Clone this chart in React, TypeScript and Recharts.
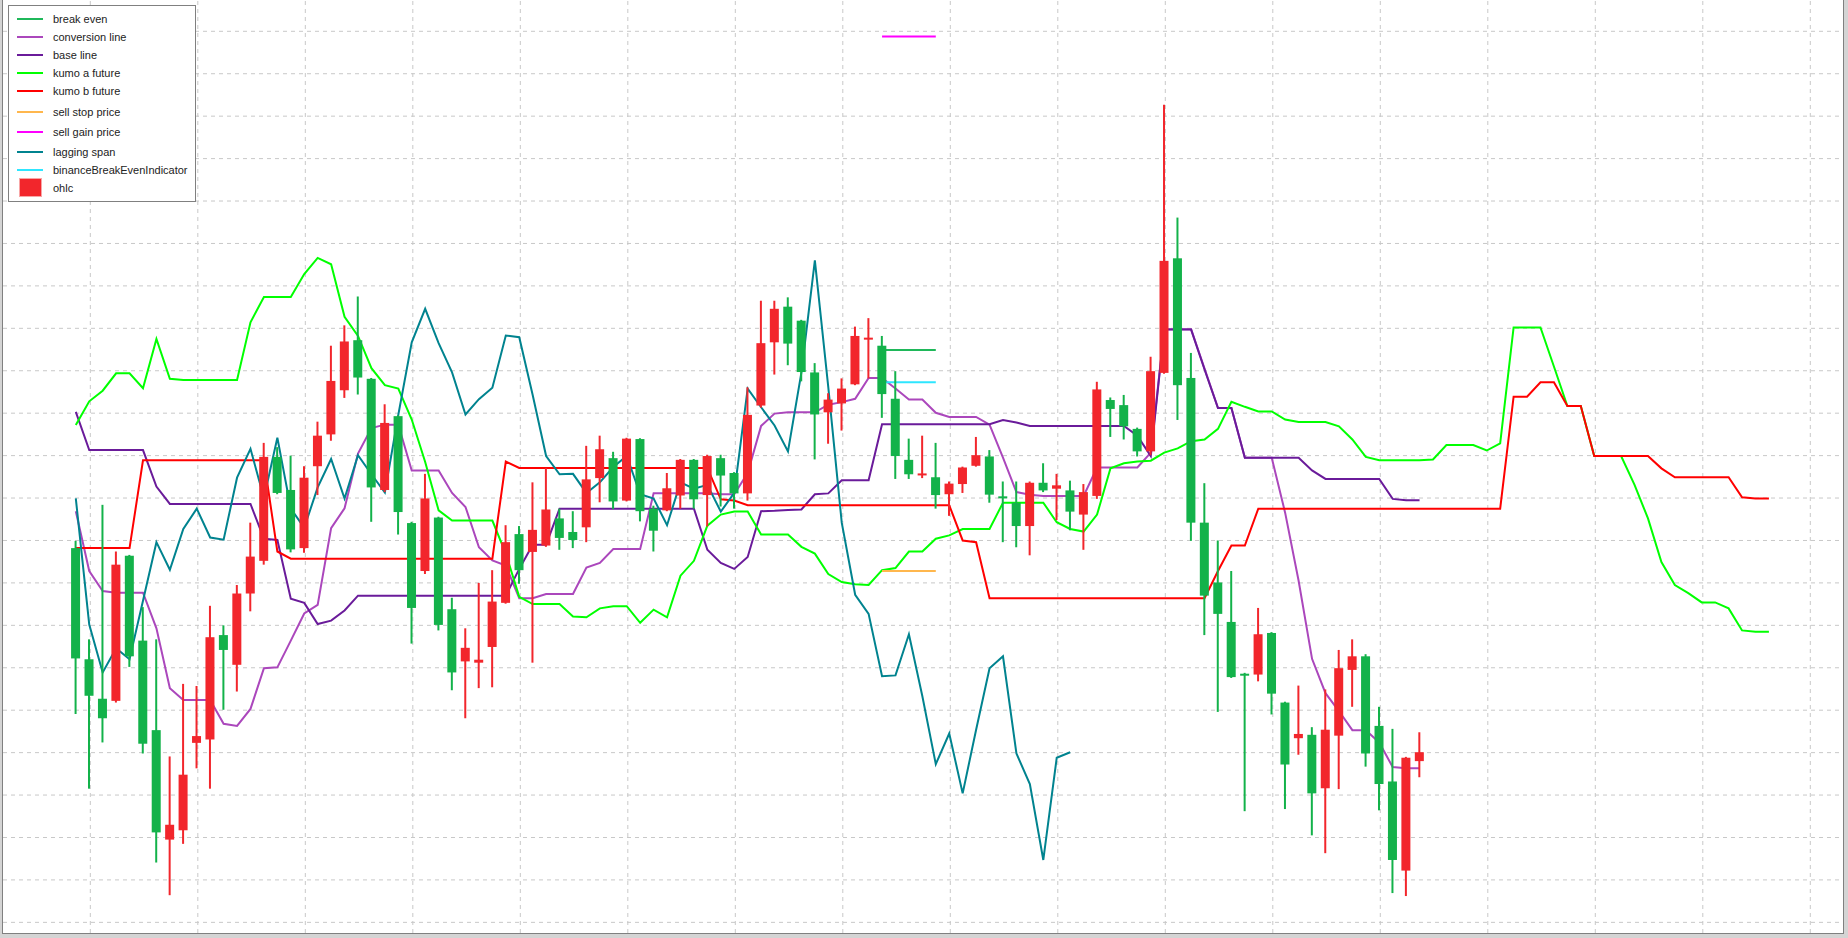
import React from 'react';
import { ComposedChart, Line, Bar, XAxis, YAxis, ReferenceLine } from 'recharts';

// ---- candles (index 0..100) ----
const opens = [
  188.2, 162.0, 152.7, 152.2, 186.4, 166.4, 145.3, 119.5, 121.7, 142.3,
  143.1, 167.7, 160.7, 177.5, 185.2, 209.7, 201.9, 188.2, 207.5, 215.0,
  225.4, 237.2, 228.1, 201.9, 219.3, 194.1, 182.8, 195.4, 173.8, 161.5,
  161.2, 164.9, 175.3, 191.5, 187.3, 188.8, 195.2, 192.0, 193.1, 204.7,
  209.4, 199.4, 213.9, 197.5, 197.1, 200.6, 209.0, 200.7, 209.4, 205.9,
  201.1, 221.8, 236.7, 245.1, 241.8, 229.6, 220.2, 222.3, 226.8, 237.5,
  235.9, 223.4, 209.0, 205.5, 204.9, 200.9, 203.3, 207.6, 209.8, 200.4,
  198.9, 193.4, 203.6, 202.2, 201.8, 196.1, 200.5, 223.1, 221.9, 216.3,
  211.0, 229.5, 256.5, 228.3, 194.2, 180.1, 170.8, 158.6, 158.4, 168.2,
  151.8, 143.4, 144.2, 131.6, 144.0, 159.5, 162.7, 146.3, 133.2, 112.2,
  138.0,
];
const highs = [
  189.9, 166.7, 198.4, 187.4, 186.6, 174.3, 166.7, 139.1, 156.2, 155.7,
  174.6, 170.0, 179.5, 194.2, 213.0, 212.0, 210.0, 207.5, 218.0, 235.9,
  240.7, 247.5, 228.3, 222.1, 219.5, 194.4, 205.7, 195.6, 176.5, 169.3,
  180.0, 183.0, 193.6, 193.4, 203.7, 207.1, 197.5, 196.9, 212.3, 214.7,
  210.9, 214.2, 214.1, 198.2, 205.9, 209.2, 209.2, 210.2, 210.2, 206.1,
  226.1, 246.5, 246.5, 247.3, 242.0, 231.8, 224.7, 228.2, 240.4, 242.4,
  238.2, 229.9, 214.0, 214.7, 213.0, 203.9, 207.4, 214.4, 211.3, 203.9,
  203.9, 203.9, 208.2, 205.7, 204.1, 203.3, 227.4, 223.7, 224.3, 216.6,
  233.3, 292.7, 266.1, 234.2, 203.5, 190.0, 182.8, 158.8, 174.1, 168.4,
  152.0, 155.8, 146.0, 154.9, 164.2, 166.7, 163.2, 150.8, 145.6, 139.0,
  144.8,
];
const lows = [
  149.1, 131.5, 142.4, 151.8, 160.2, 139.8, 114.1, 106.4, 118.5, 136.3,
  131.5, 150.1, 154.4, 173.3, 184.3, 200.9, 187.2, 187.1, 200.7, 213.5,
  223.6, 224.4, 194.4, 201.4, 191.4, 165.7, 182.1, 168.8, 154.7, 148.1,
  155.2, 155.4, 175.1, 179.8, 161.2, 188.5, 187.8, 188.2, 189.6, 199.0,
  197.4, 199.2, 194.5, 187.4, 196.9, 197.5, 197.5, 193.3, 198.0, 197.5,
  199.4, 221.3, 229.1, 231.3, 227.5, 209.1, 212.8, 215.9, 226.6, 228.2,
  218.9, 204.5, 204.5, 204.7, 197.5, 195.8, 201.2, 207.4, 198.9, 189.6,
  188.4, 186.5, 201.4, 194.8, 192.4, 187.8, 199.8, 214.4, 213.8, 209.8,
  210.1, 229.3, 218.4, 189.9, 167.7, 149.6, 157.6, 126.2, 156.8, 149.0,
  126.7, 139.5, 120.5, 116.3, 131.4, 150.8, 136.7, 126.4, 106.9, 106.2,
  134.2,
];
const closes = [
  162.2, 153.4, 148.1, 184.3, 162.7, 142.1, 121.2, 123.0, 134.8, 143.9,
  167.2, 164.2, 177.5, 186.2, 209.7, 201.2, 187.9, 204.8, 214.7, 227.6,
  236.9, 228.4, 202.5, 217.7, 196.7, 174.1, 199.9, 170.1, 158.9, 164.7,
  161.9, 175.6, 189.6, 183.0, 192.5, 197.3, 190.6, 190.1, 204.4, 211.5,
  199.2, 214.0, 196.9, 192.3, 202.3, 209.0, 199.7, 209.9, 205.3, 201.1,
  219.6, 236.5, 244.6, 236.4, 229.7, 219.7, 223.2, 225.8, 238.2, 237.8,
  224.5, 209.9, 205.6, 205.8, 200.7, 203.4, 207.2, 210.1, 200.8, 200.0,
  193.4, 203.6, 201.8, 203.0, 196.8, 201.4, 225.6, 221.0, 216.9, 211.0,
  229.9, 255.9, 226.6, 194.2, 177.0, 172.7, 157.8, 158.3, 167.9, 153.9,
  137.2, 144.4, 130.4, 145.4, 159.9, 162.7, 139.8, 132.6, 114.7, 138.8,
  140.1,
];

// ---- indicator lines ----
const conversionLine = [
  196.9, 182.8, 178.1, 177.7, 177.7, 177.7, 169.3, 155.2, 152.4, 152.4,
  152.4, 146.8, 146.3, 150.3, 159.9, 160.1, 166.4, 172.8, 174.8, 192.9,
  197.6, 210.5, 216.5, 217.3, 217.3, 206.5, 206.5, 206.5, 201.2, 197.9,
  188.4, 185.3, 184.1, 176.4, 176.4, 177.4, 177.4, 177.4, 183.6, 184.7,
  188.0, 188.0, 188.0, 201.1, 201.1, 201.1, 201.1, 201.1, 200.9, 200.9,
  205.9, 217.0, 219.9, 220.2, 220.2, 220.2, 222.0, 222.6, 223.4, 228.3,
  228.3, 225.8, 223.2, 223.2, 220.1, 219.1, 219.1, 219.1, 217.3, 209.5,
  201.4, 200.8, 200.5, 200.5, 200.5, 200.5, 207.2, 207.2, 207.2, 207.2,
  210.7, 239.8, 239.8, 239.8, 230.5, 221.2, 221.2, 209.5, 209.5, 209.5,
  196.5, 180.5, 162.1, 154.0, 149.8, 145.3, 145.3, 142.4, 136.6, 136.3,
  136.3,
];
const baseLine = [
  220.3, 211.3, 211.3, 211.3, 211.3, 211.3, 202.7, 198.6, 198.6, 198.6,
  198.6, 198.6, 198.6, 198.6, 190.4, 190.1, 176.3, 175.3, 170.3, 171.1,
  173.5, 177.0, 177.0, 177.0, 177.0, 177.0, 177.0, 177.0, 177.0, 177.0,
  177.0, 177.0, 177.0, 183.3, 189.0, 189.0, 197.5, 197.5, 197.5, 197.5,
  197.5, 197.5, 197.5, 197.5, 197.5, 197.5, 197.5, 187.8, 184.7, 183.3,
  186.1, 196.9, 197.0, 197.2, 197.3, 200.9, 201.1, 204.2, 204.2, 204.2,
  217.4, 217.4, 217.4, 217.4, 217.4, 217.4, 217.4, 217.4, 217.4, 218.4,
  217.8, 217.0, 217.0, 217.0, 217.0, 217.0, 217.0, 217.0, 217.0, 214.7,
  209.9, 239.7, 239.7, 239.7, 230.3, 221.2, 221.2, 209.5, 209.5, 209.5,
  209.5, 209.5, 206.5, 204.5, 204.5, 204.5, 204.5, 204.5, 199.8, 199.5,
  199.5,
];
const kumoAFuture = [
  217.2, 222.8, 225.3, 229.4, 229.4, 225.9, 237.5, 228.1, 227.8, 227.8,
  227.8, 227.8, 227.8, 241.4, 247.4, 247.4, 247.4, 252.8, 256.6, 255.1,
  242.7, 238.2, 230.6, 226.6, 225.8, 218.5, 208.5, 197.1, 194.7, 194.7,
  194.7, 194.7, 186.9, 176.7, 175.0, 175.0, 175.0, 172.1, 171.9, 174.0,
  174.5, 174.5, 170.6, 173.7, 171.9, 181.7, 185.2, 193.5, 196.1, 196.8,
  196.8, 191.4, 191.4, 191.4, 188.5, 186.9, 182.1, 180.2, 179.7, 179.5,
  183.0, 183.5, 187.4, 187.4, 190.4, 191.2, 192.7, 192.7, 192.7, 198.9,
  198.9, 198.9, 198.9, 194.3, 192.7, 192.1, 196.1, 207.0, 208.2, 208.6,
  208.8, 210.7, 211.7, 213.4, 213.8, 216.3, 222.7, 221.5, 220.4, 220.4,
  218.5, 217.9, 217.9, 217.9, 216.9, 213.8, 209.7, 208.9, 208.9, 208.9,
  208.9, 209.1, 212.5, 212.5, 212.5, 211.2, 212.9, 240.2, 240.2, 240.2,
  231.0, 221.7, 221.7, 209.9, 209.9, 209.9, 203.1, 195.2, 184.9, 179.5,
  177.6, 175.4, 175.4, 174.0, 168.8, 168.5, 168.5,
];
const kumoBFuture = [
  188.2, 188.2, 188.2, 188.2, 188.2, 208.9, 208.9, 208.9, 208.9, 208.9,
  208.9, 208.9, 208.9, 208.9, 208.9, 187.4, 185.7, 185.7, 185.7, 185.7,
  185.7, 185.7, 185.7, 185.7, 185.7, 185.7, 185.7, 185.7, 185.7, 185.7,
  185.7, 185.7, 208.6, 207.1, 207.1, 207.1, 207.1, 207.1, 207.1, 207.1,
  207.1, 207.1, 207.1, 207.1, 207.1, 207.1, 207.1, 207.1, 199.7, 199.4,
  198.3, 198.3, 198.3, 198.3, 198.3, 198.3, 198.3, 198.3, 198.3, 198.3,
  198.3, 198.3, 198.3, 198.3, 198.3, 198.3, 190.0, 189.6, 176.4, 176.4,
  176.4, 176.4, 176.4, 176.4, 176.4, 176.4, 176.4, 176.4, 176.4, 176.4,
  176.4, 176.4, 176.4, 176.4, 176.4, 182.8, 188.8, 188.8, 197.5, 197.5,
  197.5, 197.5, 197.5, 197.5, 197.5, 197.5, 197.5, 197.5, 197.5, 197.5,
  197.5, 197.5, 197.5, 197.5, 197.5, 197.5, 197.5, 223.9, 223.9, 227.3,
  227.3, 221.7, 221.7, 209.9, 209.9, 209.9, 209.9, 209.9, 207.0, 204.9,
  204.9, 204.9, 204.9, 204.9, 200.2, 199.9, 199.9,
];
const laggingSpan = [
  199.9, 170.2, 158.9, 164.6, 162.0, 175.8, 189.6, 183.1, 192.7, 197.5,
  190.7, 190.2, 204.8, 211.6, 200.0, 214.2, 197.5, 193.0, 202.5, 209.2,
  199.9, 210.1, 205.6, 201.3, 219.6, 236.7, 244.6, 236.5, 229.6, 219.7,
  223.3, 226.0, 238.3, 237.9, 224.3, 209.9, 205.6, 205.7, 201.2, 203.7,
  207.3, 209.9, 200.9, 199.9, 193.6, 203.7, 202.2, 203.1, 196.8, 201.2,
  225.8, 221.4, 217.1, 211.0, 229.6, 256.0, 226.1, 194.2, 177.2, 172.7,
  158.0, 158.2, 167.9, 153.3, 137.3, 144.5, 130.4, 145.4, 159.9, 162.7,
  139.8, 132.6, 114.7, 138.8, 140.1,
];

// ---- trade levels (drawn over candles 60..64) ----
const levelCandles = [60, 61, 62, 63, 64];
const breakEvenPrice = 234.9;
const binanceBreakEvenPrice = 227.3;
const sellStopPrice = 182.8;
const sellGainPrice = 308.8;

// ---- grid ticks ----
const timeGridTicks = [
  1.08, 9.08, 17.08, 25.08, 33.08, 41.08, 49.08, 57.08, 65.08,
  73.08, 81.08, 89.08, 97.08, 105.08, 113.08, 121.08, 129.08,
];
const priceGridTicks = [
  100, 110, 120, 130, 140, 150, 160, 170, 180, 190, 200,
  210, 220, 230, 240, 250, 260, 270, 280, 290, 300, 310,
];

const RED = '#f2262c';
const GREEN = '#13b24a';
const GRID = '#c8c8c8';

const C = {
  breakEven: '#1fb85a',
  conversion: '#ab47bc',
  base: '#6a1b9a',
  kumoA: '#00ff00',
  kumoB: '#ff0000',
  sellStop: '#ffb74d',
  sellGain: '#ff00ff',
  lagging: '#00838f',
  binance: '#2ee6ff',
};

const rows: any[] = [];
for (let i = 0; i < kumoAFuture.length; i++) {
  const r: any = { i, kumoA: kumoAFuture[i], kumoB: kumoBFuture[i] };
  if (i < opens.length) {
    r.range = [lows[i], highs[i]];
    r.open = opens[i];
    r.high = highs[i];
    r.low = lows[i];
    r.close = closes[i];
    r.conversion = conversionLine[i];
    r.base = baseLine[i];
  }
  if (i < laggingSpan.length) r.lagging = laggingSpan[i];
  if (levelCandles.includes(i)) {
    r.breakEven = breakEvenPrice;
    r.binance = binanceBreakEvenPrice;
    r.sellStop = sellStopPrice;
    r.sellGain = sellGainPrice;
  }
  rows.push(r);
}

const Candle = (props: any) => {
  const { x, y, width, height, payload } = props;
  if (!payload || payload.high == null || x == null || y == null) return <g />;
  const { open, close, high, low } = payload;
  const color = close > open ? RED : GREEN;
  const top0 = Math.min(y, y + height);
  const h = Math.abs(height);
  const span = high - low || 1;
  const yOf = (v: number) => top0 + ((high - v) / span) * h;
  const cx = x + width / 2;
  const bTop = yOf(Math.max(open, close));
  const bBot = yOf(Math.min(open, close));
  return (
    <g>
      <line x1={cx} x2={cx} y1={top0} y2={top0 + h} stroke={color} strokeWidth={2} />
      <rect x={x} y={bTop} width={width} height={Math.max(bBot - bTop, 2)} fill={color} />
    </g>
  );
};

const legendItems = [
  { name: 'break even', color: C.breakEven, cy: 19.3 },
  { name: 'conversion line', color: C.conversion, cy: 37.3 },
  { name: 'base line', color: C.base, cy: 55.3 },
  { name: 'kumo a future', color: C.kumoA, cy: 73.3 },
  { name: 'kumo b future', color: C.kumoB, cy: 91.3 },
  { name: 'sell stop price', color: C.sellStop, cy: 111.7 },
  { name: 'sell gain price', color: C.sellGain, cy: 132 },
  { name: 'lagging span', color: C.lagging, cy: 152.3 },
  { name: 'binanceBreakEvenIndicator', color: C.binance, cy: 170.3 },
  { name: 'ohlc', color: RED, cy: 187.7, box: true },
];

const lineProps = {
  type: 'linear' as const,
  dot: false,
  activeDot: false,
  strokeWidth: 2,
  isAnimationActive: false,
  connectNulls: false,
};

export default function App() {
  return (
    <div
      style={{
        position: 'absolute',
        left: 0,
        top: 0,
        width: 1848,
        height: 938,
        background: '#d4d4d4',
        overflow: 'hidden',
        fontFamily: '"Liberation Sans", Arial, sans-serif',
      }}
    >
      <div
        style={{
          position: 'absolute',
          left: 2,
          top: -1,
          width: 1842,
          height: 935,
          boxSizing: 'border-box',
          border: '1px solid #808080',
          background: '#ffffff',
        }}
      />
      <div style={{ position: 'absolute', left: 3, top: 0, width: 1840, height: 933 }}>
        <ComposedChart
          width={1840}
          height={933}
          data={rows}
          margin={{ top: 0, right: 0, bottom: 0, left: 0 }}
        >
          <XAxis
            type="number"
            dataKey="i"
            domain={[-5.418, 131.513]}
            ticks={timeGridTicks}
            allowDataOverflow
            height={0}
            tick={false}
            tickLine={false}
            axisLine={false}
            interval={0}
          />
          <YAxis
            type="number"
            domain={[97.49, 317.377]}
            ticks={priceGridTicks}
            allowDataOverflow
            width={0}
            tick={false}
            tickLine={false}
            axisLine={false}
            interval={0}
          />
          {priceGridTicks.map((t) => (
            <ReferenceLine
              key={'h' + t}
              y={t}
              stroke={GRID}
              strokeWidth={1}
              strokeDasharray="4 4"
              zIndex={-100}
            />
          ))}
          {timeGridTicks.map((t) => (
            <ReferenceLine
              key={'v' + t}
              x={t}
              stroke={GRID}
              strokeWidth={1}
              strokeDasharray="4 4"
              zIndex={-100}
            />
          ))}
          <Line {...lineProps} dataKey="breakEven" stroke={C.breakEven} />
          <Line {...lineProps} dataKey="conversion" stroke={C.conversion} />
          <Line {...lineProps} dataKey="base" stroke={C.base} />
          <Line {...lineProps} dataKey="kumoA" stroke={C.kumoA} />
          <Line {...lineProps} dataKey="kumoB" stroke={C.kumoB} />
          <Line {...lineProps} dataKey="sellStop" stroke={C.sellStop} />
          <Line {...lineProps} dataKey="sellGain" stroke={C.sellGain} />
          <Line {...lineProps} dataKey="lagging" stroke={C.lagging} />
          <Line {...lineProps} dataKey="binance" stroke={C.binance} />
          <Bar
            dataKey="range"
            barSize={9}
            isAnimationActive={false}
            shape={(p: any) => <Candle {...p} />}
            zIndex={1000}
          />
        </ComposedChart>
      </div>
      <div
        style={{
          position: 'absolute',
          left: 8,
          top: 5,
          width: 188,
          height: 197,
          boxSizing: 'border-box',
          border: '1px solid #808080',
          background: '#ffffff',
        }}
      />
      {legendItems.map((it) => (
        <div key={it.name}>
          {it.box ? (
            <div
              style={{
                position: 'absolute',
                left: 19,
                top: 178,
                width: 23,
                height: 19,
                boxSizing: 'border-box',
                background: it.color,
                border: '1px solid #f8a6a6',
              }}
            />
          ) : (
            <div
              style={{
                position: 'absolute',
                left: 17,
                top: it.cy - 1,
                width: 26,
                height: 2,
                background: it.color,
              }}
            />
          )}
          <div
            style={{
              position: 'absolute',
              left: 53,
              top: it.cy - 7,
              height: 14,
              lineHeight: '14px',
              fontSize: 11,
              color: '#222222',
              whiteSpace: 'nowrap',
            }}
          >
            {it.name}
          </div>
        </div>
      ))}
    </div>
  );
}
